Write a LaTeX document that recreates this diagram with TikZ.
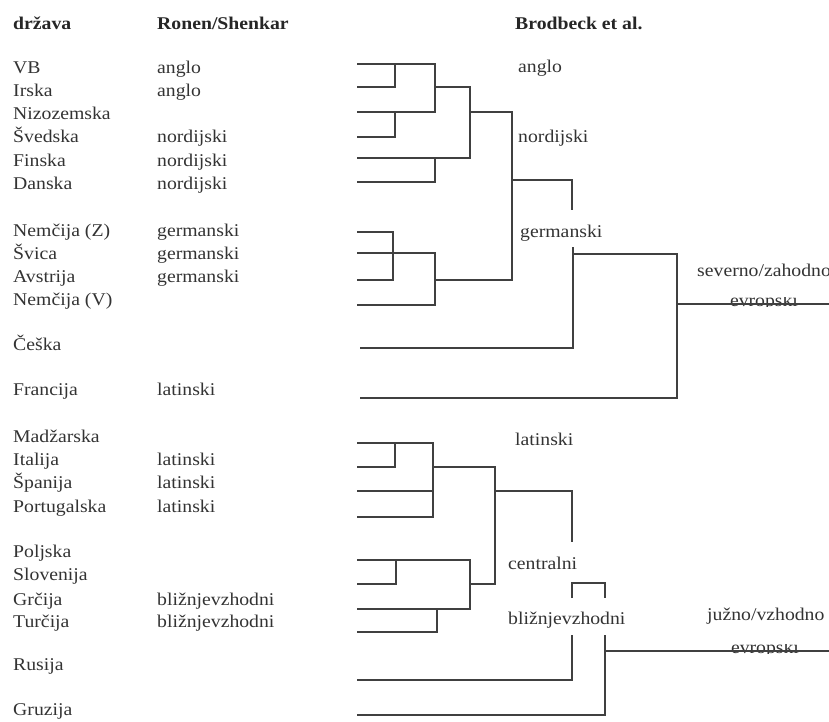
\documentclass[tikz,border=0pt]{standalone}
\usepackage{fontspec}
\setmainfont{Liberation Serif}[FakeStretch=1.1]
\begin{document}
\begin{tikzpicture}[x=1bp,y=-1bp,
  txt/.style={anchor=base west,inner sep=0pt,text=black!80,font=\fontsize{18}{22}\selectfont},
  hdr/.style={anchor=base west,inner sep=0pt,text=black!85,font=\fontsize{18}{22}\selectfont\bfseries},
  ln/.style={line width=1.3bp,draw=black!75}]
\useasboundingbox (0,0) rectangle (829,722);
% headers
\node[hdr] (h1) at (13,30) {država};
\node[hdr] (h2) at (157,30) {Ronen/Shenkar};
\node[hdr] (h3) at (515,30) {Brodbeck et al.};
% countries
\foreach \t/\y [count=\i] in {VB/74,Irska/97,Nizozemska/120,Švedska/143,Finska/166,Danska/189,
  {Nemčija (Z)}/236,Švica/259,Avstrija/282,{Nemčija (V)}/305,Češka/350,Francija/395,
  Madžarska/442,Italija/465,Španija/488,Portugalska/512,Poljska/557,Slovenija/580,
  Grčija/605,Turčija/627,Rusija/670,Gruzija/715}
  \node[txt] (c\i) at (13,\y) {\t};
% Ronen/Shenkar
\foreach \t/\y [count=\i] in {anglo/74,anglo/97,nordijski/143,nordijski/166,nordijski/189,
  germanski/236,germanski/259,germanski/282,latinski/395,latinski/465,latinski/488,latinski/512,
  bližnjevzhodni/605,bližnjevzhodni/627}
  \node[txt] (r\i) at (157,\y) {\t};
% Brodbeck labels
\node[txt] (b1) at (518,73) {anglo};
\node[txt] (b2) at (518,143) {nordijski};
\node[txt] (b3) at (520,237) {germanski};
\node[txt] (b4) at (697,276) {severno/zahodno};
\node[txt] (b5) at (515,445) {latinski};
\node[txt] (b6) at (508,569) {centralni};
\node[txt] (b7) at (508,624) {bližnjevzhodni};
\node[txt] (b8) at (707,620) {južno/vzhodno};
\begin{scope}
  \clip (700,297) rectangle (829,306);
  \node[txt,anchor=base] (b9) at (764,306) {evropski};
\end{scope}
\begin{scope}
  \clip (700,644) rectangle (829,653);
  \node[txt,anchor=base] (b10) at (765,653) {evropski};
\end{scope}
% upper dendrogram
\draw[ln] (357,64) -- (435,64) -- (435,112) -- (357,112);
\draw[ln] (395,64) -- (395,87) -- (357,87);
\draw[ln] (395,112) -- (395,137) -- (357,137);
\draw[ln] (435,87) -- (470,87) -- (470,158) -- (357,158);
\draw[ln] (435,158) -- (435,182) -- (357,182);
\draw[ln] (470,112) -- (512,112) -- (512,280) -- (435,280);
\draw[ln] (512,180) -- (572,180) -- (572,210);
\draw[ln] (357,232) -- (393,232) -- (393,280) -- (357,280);
\draw[ln] (357,253) -- (435,253) -- (435,305) -- (357,305);
\draw[ln] (360,348) -- (573,348) -- (573,247);
\draw[ln] (573,254) -- (677,254) -- (677,398) -- (360,398);
\draw[ln] (677,304) -- (829,304);
% lower dendrogram
\draw[ln] (357,443) -- (433,443) -- (433,517) -- (357,517);
\draw[ln] (395,443) -- (395,467) -- (357,467);
\draw[ln] (357,491) -- (433,491);
\draw[ln] (433,467) -- (495,467) -- (495,584) -- (470,584);
\draw[ln] (495,491) -- (572,491) -- (572,542);
\draw[ln] (357,560) -- (470,560) -- (470,609) -- (357,609);
\draw[ln] (396,560) -- (396,584) -- (357,584);
\draw[ln] (437,609) -- (437,632) -- (357,632);
\draw[ln] (572,598) -- (572,583) -- (605,583) -- (605,598);
\draw[ln] (572,635) -- (572,680) -- (357,680);
\draw[ln] (605,635) -- (605,715) -- (357,715);
\draw[ln] (605,651) -- (829,651);
\end{tikzpicture}
\end{document}
